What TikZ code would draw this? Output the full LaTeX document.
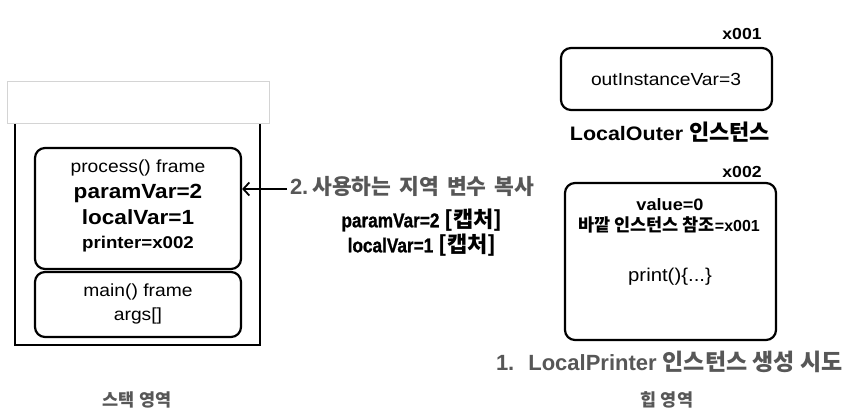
\documentclass[tikz,border=0pt]{standalone}
\usepackage{fontspec}
\setmainfont{Liberation Sans}
\newfontfamily\hv{Liberation Sans}[FakeStretch=1.1]
\newfontfamily\cn{Liberation Sans}[FakeStretch=0.86, FakeBold=1]
\newfontfamily\kr{Noto Sans CJK KR}
\usetikzlibrary{arrows.meta}
\newcommand\setfs[1]{\fontsize{#1pt}{#1pt}\selectfont}
\definecolor{graytxt}{HTML}{575757}
\definecolor{lightframe}{HTML}{D4D4D4}
\tikzset{
  txt/.style={inner sep=0pt, outer sep=0pt, anchor=base},
  frame/.style={draw, line width=2.2pt, rounded corners=10pt, inner sep=0pt},
  stackbox/.style={draw, line width=2pt, inner sep=0pt},
  topbox/.style={draw=lightframe, fill=white, line width=0.8pt, inner sep=0pt},
  copyarrow/.style={line width=1.8pt, -{Straight Barb[length=6pt,width=13pt,line width=1.8pt]}}
}
\begin{document}
\begin{tikzpicture}[x=1pt,y=-1pt]
\useasboundingbox[fill=white] (0,0) rectangle (853,415);

% stack area
\node[stackbox, minimum width=245pt, minimum height=235pt] (stack) at (137.5,227.5) {};
\node[topbox, minimum width=262pt, minimum height=42pt] (topgray) at (138,102) {};
\node[frame, minimum width=206pt, minimum height=121pt] (process) at (138,208.5) {};
\node[frame, minimum width=206pt, minimum height=65pt] (mainf) at (138,304.5) {};

\node[txt] (p1) at (138,172) {\hv\setfs{17.5}process() frame};
\node[txt] (p2) at (138,198.5) {\hv\bfseries\setfs{20.5}paramVar=2};
\node[txt] (p3) at (138,224.5) {\hv\bfseries\setfs{20.5}localVar=1};
\node[txt] (p4) at (138,248) {\hv\bfseries\setfs{17}printer=x002};
\node[txt] (m1) at (138,296) {\hv\setfs{17.5}main() frame};
\node[txt] (m2) at (138,320) {\hv\setfs{17.5}args[]};

% copy arrow and labels
\coordinate (astart) at (287,189);
\draw[copyarrow] (astart) -- (process.east |- astart);
\node[txt, anchor=base west, text=graytxt] (copylbl) at (290,194)
  {\bfseries\setfs{22}2.\hspace{4pt}{\kr\setfs{21.5}사용하는\hspace{8pt}지역\hspace{8pt}변수\hspace{8pt}복사}};
\node[txt] (cap1) at (422,227.3) {\cn\bfseries\setfs{20}paramVar=2\hspace{5pt}{\kr\setfs{22}[캡처]}};
\node[txt] (cap2) at (422,252.3) {\cn\bfseries\setfs{20}localVar=1\hspace{5pt}{\kr\setfs{22}[캡처]}};

% heap area
\node[txt] (a1) at (742,39) {\hv\bfseries\setfs{16}x001};
\node[frame, minimum width=211pt, minimum height=62pt] (outer) at (666.5,79) {};
\node[txt] (o1) at (666,85.7) {\hv\setfs{17.5}outInstanceVar=3};
\node[txt] (outerlbl) at (670,140.7) {\hv\bfseries\setfs{19.5}LocalOuter {\kr\setfs{22}인스턴스}};

\node[txt] (a2) at (742,177.3) {\hv\bfseries\setfs{16}x002};
\node[frame, minimum width=211pt, minimum height=157pt] (printer) at (670.5,261.5) {};
\node[txt] (v1) at (670,210) {\hv\bfseries\setfs{16.5}value=0};
\node[txt] (v2) at (669,231) {\bfseries{\kr\setfs{17.5}바깥 인스턴스 참조}{\setfs{16}=x001}};
\node[txt] (v3) at (670,281.7) {\hv\setfs{18.5}print()\{...\}};

\node[txt, anchor=base west, text=graytxt] (createlbl) at (496,370)
  {\bfseries\setfs{22}1.\hspace{14pt}LocalPrinter\hspace{6pt}{\kr\setfs{23}인스턴스 생성 시도}};

% area labels
\node[txt, text=graytxt] (stacklbl) at (137,406) {\kr\bfseries\setfs{17.5}스택 영역};
\node[txt, text=graytxt] (heaplbl) at (667,406) {\kr\bfseries\setfs{17.5}힙 영역};
\end{tikzpicture}
\end{document}
